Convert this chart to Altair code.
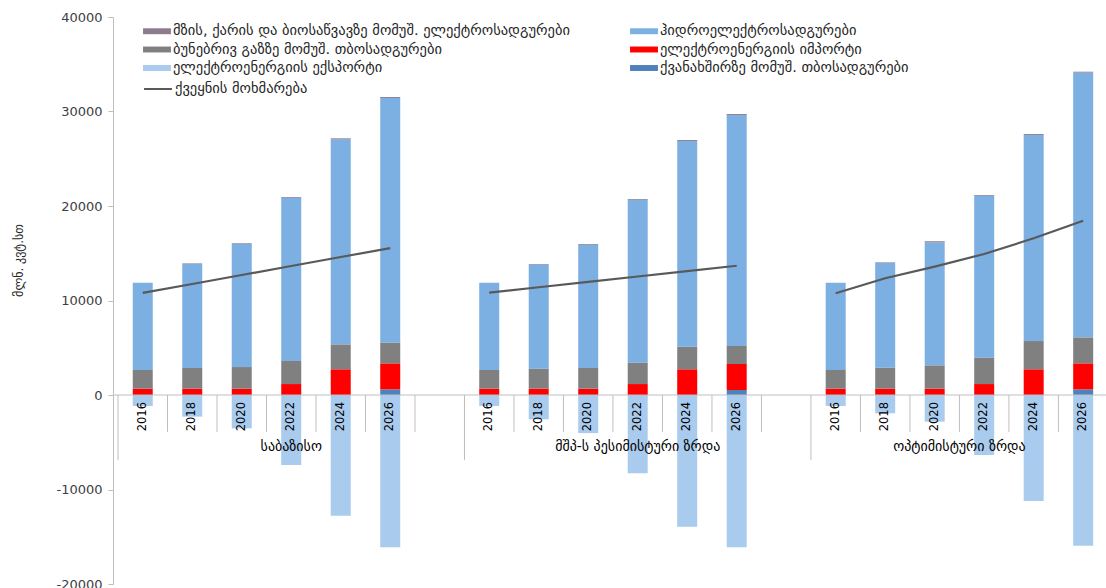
import altair as alt
import pandas as pd

groups = ["საბაზისო", "მშპ-ს პესიმისტური ზრდა", "ოპტიმისტური ზრდა"]
years = ["2016", "2018", "2020", "2022", "2024", "2026"]

S_SOLAR = "მზის, ქარის და ბიოსაწვავზე მომუშ. ელექტროსადგურები"
S_HYDRO = "ჰიდროელექტროსადგურები"
S_GAS = "ბუნებრივ გაზზე მომუშ. თბოსადგურები"
S_IMPORT = "ელექტროენერგიის იმპორტი"
S_EXPORT = "ელექტროენერგიის ექსპორტი"
S_COAL = "ქვანახშირზე მომუშ. თბოსადგურები"
S_CONS = "ქვეყნის მოხმარება"

# values per group (baseline, pessimistic, optimistic), per year
coal = [[0, 0, 0, 0, 0, 600],
        [0, 0, 0, 0, 0, 530],
        [0, 0, 0, 0, 0, 600]]
imports = [[670, 670, 670, 1160, 2720, 2750],
           [670, 670, 670, 1160, 2720, 2750],
           [670, 670, 670, 1160, 2720, 2750]]
gas = [[1975, 2190, 2290, 2440, 2640, 2190],
       [1975, 2120, 2190, 2260, 2390, 1910],
       [1975, 2220, 2470, 2790, 2990, 2750]]
hydro = [[9235, 11010, 13010, 17270, 21700, 25890],
         [9235, 11010, 13040, 17240, 21770, 24440],
         [9235, 11090, 13000, 17130, 21800, 28010]]
solar = [[0, 60, 80, 80, 100, 100],
         [0, 60, 80, 80, 100, 100],
         [0, 60, 130, 80, 100, 100]]
export = [[-1160, -2290, -3530, -7400, -12770, -16120],
          [-1160, -2570, -4030, -8270, -13930, -16120],
          [-1160, -1940, -2820, -6350, -11210, -15940]]
consumption = [[10800, 11750, 12700, 13650, 14600, 15550],
               [10830, 11400, 11970, 12540, 13110, 13680],
               [10760, 12350, 13580, 14920, 16580, 18440]]

# legend is filled column by column: (solar, gas, export) | (hydro, import, coal)
legend_order = [S_SOLAR, S_GAS, S_EXPORT, S_HYDRO, S_IMPORT, S_COAL]
legend_colors = ["#8c7b8f", "#808080", "#a9cbee", "#7cafe2", "#ff0000", "#4f81bd"]

stack_series = [(S_COAL, coal), (S_IMPORT, imports), (S_GAS, gas),
                (S_HYDRO, hydro), (S_SOLAR, solar), (S_EXPORT, export)]

SLOTS_PER_GROUP = 7
N_SLOTS = 20

bar_rows, line_rows, year_rows = [], [], []
for gi, g in enumerate(groups):
    for yi, yr in enumerate(years):
        slot = gi * SLOTS_PER_GROUP + yi + 0.5
        for si, (name, vals) in enumerate(stack_series):
            bar_rows.append(dict(slot=slot, series=name, value=vals[gi][yi], ord=si))
        line_rows.append(dict(slot=slot, group=g, value=consumption[gi][yi], label=S_CONS))
        year_rows.append(dict(slot=slot, year=yr, zero=0))

bars_df = pd.DataFrame(bar_rows)
line_df = pd.DataFrame(line_rows)
year_df = pd.DataFrame(year_rows)

tick_df = pd.DataFrame([
    dict(b=b, top=0, lo=(-6900 if b % SLOTS_PER_GROUP == 0 else -3900)) for b in range(N_SLOTS)
])
group_df = pd.DataFrame([
    dict(g=g, ypos=-5500,
         center=(gi * SLOTS_PER_GROUP + min((gi + 1) * SLOTS_PER_GROUP, N_SLOTS)) / 2)
    for gi, g in enumerate(groups)
])
zero_df = pd.DataFrame({"zero": [0]})

FONT = "DejaVu Sans"
xscale = alt.Scale(domain=[0, 19.86], nice=False, zero=False)
yscale = alt.Scale(domain=[-20000, 40000], nice=False)

bars = alt.Chart(bars_df).mark_bar(size=20).encode(
    x=alt.X("slot:Q", scale=xscale, axis=None),
    y=alt.Y("value:Q", stack="zero", scale=yscale,
            axis=alt.Axis(values=[-20000, -10000, 0, 10000, 20000, 30000, 40000],
                          labelExpr="toString(datum.value)", grid=False, tickSize=5,
                          domainColor="#bfbfbf", tickColor="#bfbfbf",
                          labelFont=FONT, labelFontSize=13, labelColor="#404040",
                          labelPadding=6,
                          title="მლნ. კვტ.სთ", titleFont=FONT, titleFontSize=12,
                          titleFontWeight="normal", titleColor="#262626",
                          titleAngle=270, titleX=-95, titleY=243,
                          titleAlign="center", titleBaseline="middle")),
    color=alt.Color("series:N",
                    scale=alt.Scale(domain=legend_order, range=legend_colors),
                    legend=alt.Legend(orient="none", legendX=35, legendY=5, columns=2,
                                      title=None, padding=0,
                                      symbolType="M-1.55,-0.33H1.55V0.33H-1.55Z",
                                      symbolSize=324, symbolStrokeWidth=0,
                                      labelFont=FONT, labelFontSize=14.5,
                                      labelColor="#262626", labelLimit=700,
                                      labelOffset=7, rowPadding=2.5, columnPadding=60)),
    order=alt.Order("ord:Q"),
)

zero_line = alt.Chart(zero_df).mark_rule(color="#bfbfbf", strokeWidth=1).encode(
    y=alt.Y("zero:Q", scale=yscale)
)

ticks = alt.Chart(tick_df).mark_rule(color="#bfbfbf", strokeWidth=1).encode(
    x=alt.X("b:Q", scale=xscale),
    y=alt.Y("top:Q", scale=yscale),
    y2=alt.Y2("lo:Q"),
)

line = alt.Chart(line_df).mark_line(strokeWidth=2.2).encode(
    x=alt.X("slot:Q", scale=xscale),
    y=alt.Y("value:Q", scale=yscale),
    detail="group:N",
    stroke=alt.Stroke("label:N", scale=alt.Scale(range=["#595959"]),
                      legend=alt.Legend(orient="none", legendX=35, legendY=62,
                                        title=None, padding=0,
                                        symbolType="M-1.55,0H1.55", symbolSize=324,
                                        symbolStrokeWidth=2,
                                        labelFont=FONT, labelFontSize=14.5,
                                        labelColor="#262626", labelOffset=7)),
)

year_text = alt.Chart(year_df).mark_text(
    angle=270, align="right", baseline="middle", dx=-7,
    font=FONT, fontSize=11.5, color="#000000"
).encode(
    x=alt.X("slot:Q", scale=xscale),
    y=alt.Y("zero:Q", scale=yscale),
    text="year:N",
)

group_text = alt.Chart(group_df).mark_text(
    align="center", baseline="middle", font=FONT, fontSize=14, color="#000000"
).encode(
    x=alt.X("center:Q", scale=xscale),
    y=alt.Y("ypos:Q", scale=yscale),
    text="g:N",
)

chart = alt.layer(bars, ticks, zero_line, line, year_text, group_text).properties(
    width=993, height=567,
    padding={"left": 113, "top": 17, "right": 0, "bottom": 4},
    autosize=alt.AutoSizeParams(type="none"),
    background="white",
).configure_view(stroke=None)

chart.save("out.html", embed_options={"renderer": "svg", "actions": False})
